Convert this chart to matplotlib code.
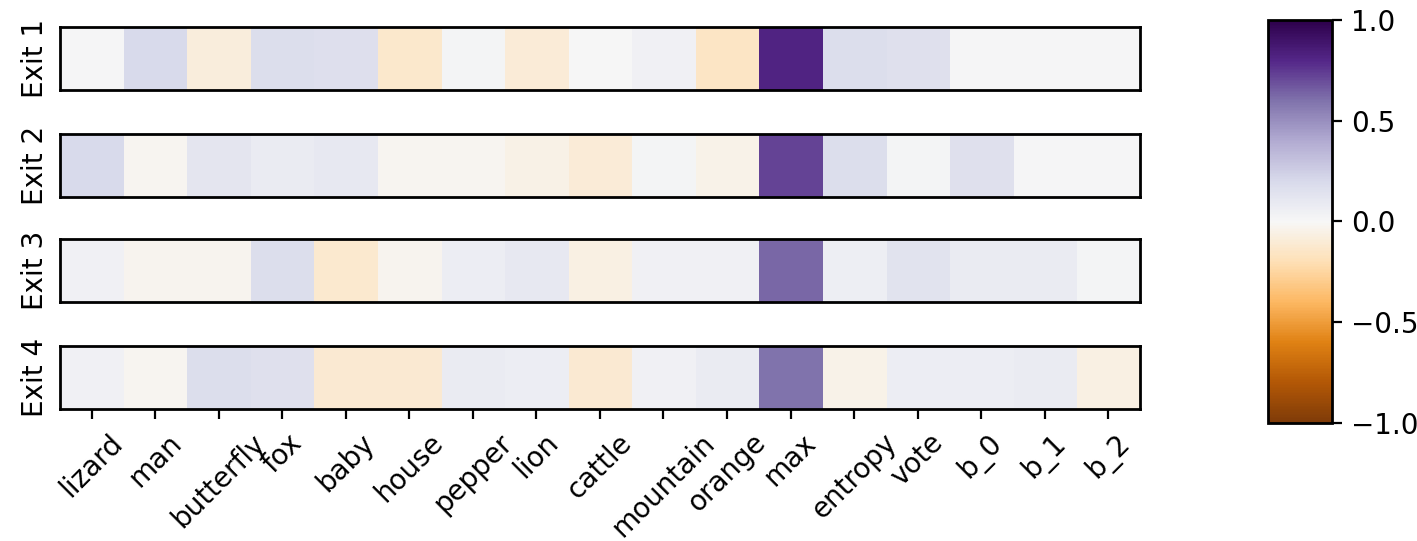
import numpy as np
import matplotlib
matplotlib.use('Agg')
import matplotlib.pyplot as plt

features = ['lizard', 'man', 'butterfly', 'fox', 'baby', 'house', 'pepper', 'lion',
            'cattle', 'mountain', 'orange', 'max', 'entropy', 'vote', 'b_0', 'b_1', 'b_2']
exit_names = ['Exit 1', 'Exit 2', 'Exit 3', 'Exit 4']

exit_1 = [0.01, 0.20, -0.08, 0.17, 0.16, -0.13, 0.02, -0.10, 0.00, 0.04, -0.15,
          0.82, 0.17, 0.15, 0.01, 0.01, 0.01]
exit_2 = [0.20, -0.02, 0.12, 0.08, 0.10, -0.02, -0.02, -0.05, -0.10, 0.02, -0.04,
          0.72, 0.17, 0.02, 0.15, 0.01, 0.01]
exit_3 = [0.04, -0.03, -0.03, 0.17, -0.12, -0.03, 0.07, 0.10, -0.06, 0.04, 0.04,
          0.63, 0.06, 0.14, 0.08, 0.08, 0.02]
exit_4 = [0.04, -0.02, 0.17, 0.15, -0.11, -0.11, 0.08, 0.07, -0.11, 0.04, 0.08,
          0.60, -0.04, 0.07, 0.07, 0.08, -0.06]

rows = [exit_1, exit_2, exit_3, exit_4]

plt.rcParams['axes.linewidth'] = 1.0

fig = plt.figure(figsize=(7.085, 2.705), dpi=200)

left, width, height = 0.0423, 0.7622, 0.1165
bottoms = [0.8336, 0.6359, 0.4418, 0.2440]

im = None
for i, (name, vals) in enumerate(zip(exit_names, rows)):
    ax = fig.add_axes([left, bottoms[i], width, height])
    im = ax.imshow(np.array(vals)[None, :], cmap='PuOr', vmin=-1, vmax=1, aspect='auto')
    ax.set_yticks([])
    ax.set_ylabel(name)
    if i == len(rows) - 1:
        ax.set_xticks(range(len(features)))
        ax.set_xticklabels(features, rotation=45)
    else:
        ax.set_xticks([])

cax = fig.add_axes([0.8948, 0.2181, 0.0452, 0.745])
cb = fig.colorbar(im, cax=cax)
cb.set_ticks([-1.0, -0.5, 0.0, 0.5, 1.0])

fig.savefig('out.png', dpi=200)
